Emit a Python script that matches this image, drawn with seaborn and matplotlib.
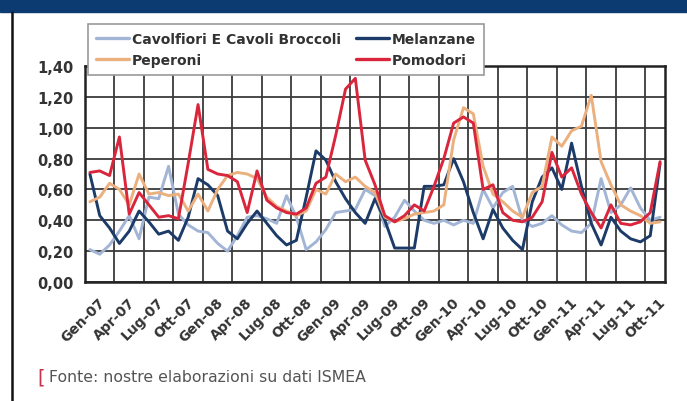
import numpy as np
import pandas as pd
import matplotlib
matplotlib.use("Agg")
import matplotlib.pyplot as plt
import seaborn as sns
from matplotlib.ticker import FuncFormatter
from matplotlib.transforms import ScaledTranslation

# monthly index (Gen-07 .. Nov-11), euro/kg
tick_labels = ['Gen-07', 'Apr-07', 'Lug-07', 'Ott-07', 'Gen-08', 'Apr-08', 'Lug-08', 'Ott-08',
               'Gen-09', 'Apr-09', 'Lug-09', 'Ott-09', 'Gen-10', 'Apr-10', 'Lug-10', 'Ott-10',
               'Gen-11', 'Apr-11', 'Lug-11', 'Ott-11']
series_names = ['Cavolfiori E Cavoli Broccoli', 'Peperoni', 'Melanzane', 'Pomodori']

cavolfiori = [0.21, 0.18, 0.24, 0.33, 0.43, 0.28, 0.55, 0.54, 0.75, 0.44, 0.37, 0.33, 0.32, 0.25, 0.20,
              0.30, 0.42, 0.43, 0.41, 0.38, 0.56, 0.42, 0.21, 0.26, 0.34, 0.45, 0.46, 0.47, 0.60, 0.56,
              0.36, 0.42, 0.53, 0.46, 0.40, 0.38, 0.40, 0.37, 0.40, 0.38, 0.60, 0.48, 0.58, 0.62, 0.40,
              0.36, 0.38, 0.43, 0.37, 0.33, 0.32, 0.38, 0.67, 0.45, 0.50, 0.61, 0.48, 0.40, 0.42]
melanzane = [0.70, 0.43, 0.35, 0.25, 0.33, 0.46, 0.39, 0.31, 0.33, 0.27, 0.42, 0.67, 0.63, 0.56, 0.33,
             0.28, 0.38, 0.46, 0.38, 0.30, 0.24, 0.27, 0.55, 0.85, 0.79, 0.65, 0.54, 0.45, 0.38, 0.54,
             0.40, 0.22, 0.22, 0.22, 0.62, 0.62, 0.63, 0.80, 0.65, 0.45, 0.28, 0.47, 0.35, 0.27, 0.21,
             0.52, 0.68, 0.74, 0.60, 0.90, 0.62, 0.38, 0.24, 0.42, 0.33, 0.28, 0.26, 0.30, 0.77]
peperoni = [0.52, 0.55, 0.64, 0.60, 0.50, 0.70, 0.57, 0.58, 0.56, 0.57, 0.46, 0.57, 0.46, 0.60, 0.69,
            0.71, 0.70, 0.67, 0.55, 0.49, 0.46, 0.43, 0.46, 0.60, 0.57, 0.70, 0.65, 0.68, 0.62, 0.58,
            0.42, 0.39, 0.41, 0.44, 0.45, 0.46, 0.50, 0.92, 1.13, 1.09, 0.75, 0.57, 0.52,
            0.46, 0.42, 0.58, 0.62, 0.94, 0.88, 0.98, 1.01, 1.21, 0.78, 0.63, 0.50, 0.46, 0.43, 0.38, 0.39]
pomodori = [0.71, 0.72, 0.69, 0.94, 0.44, 0.58, 0.50, 0.42, 0.43, 0.41, 0.77, 1.15, 0.73, 0.70, 0.69,
            0.65, 0.45, 0.72, 0.53, 0.48, 0.45, 0.44, 0.48, 0.64, 0.68, 0.95, 1.25, 1.32, 0.79, 0.63,
            0.43, 0.39, 0.43, 0.50, 0.46, 0.62, 0.80, 1.03, 1.07, 1.03, 0.60, 0.63, 0.45,
            0.40, 0.39, 0.42, 0.52, 0.84, 0.68, 0.74, 0.57, 0.45, 0.35, 0.50, 0.38, 0.37, 0.39, 0.45, 0.78]

colors = {'Cavolfiori E Cavoli Broccoli': '#a3b5d5', 'Melanzane': '#1d3b68',
          'Peperoni': '#ebb07e', 'Pomodori': '#d9263c'}

data = pd.DataFrame({'mese': np.arange(len(pomodori)),
                     'Cavolfiori E Cavoli Broccoli': cavolfiori,
                     'Melanzane': melanzane,
                     'Peperoni': peperoni,
                     'Pomodori': pomodori})
long = data.melt(id_vars='mese', var_name='serie', value_name='valore')

sns.set_style('white')
plt.rcParams['font.family'] = ['DejaVu Sans']

fig = plt.figure(figsize=(6.87, 4.02), dpi=100)
ax = fig.add_axes([85 / 687, 1 - 283 / 402, 580 / 687, 216 / 402])

# draw order: cavolfiori, melanzane, peperoni, pomodori
sns.lineplot(data=long, x='mese', y='valore', hue='serie',
             hue_order=['Cavolfiori E Cavoli Broccoli', 'Melanzane', 'Peperoni', 'Pomodori'],
             palette=colors, linewidth=2.1, ax=ax, legend=False)

n = len(pomodori)
ax.set_xlim(-0.5, n - 0.5)
ax.set_ylim(0, 1.4)
ax.set_yticks(np.arange(0, 1.41, 0.2))
ax.yaxis.set_major_formatter(FuncFormatter(lambda v, p: f"{v:.2f}".replace('.', ',')))
ax.set_xticks(np.arange(0, n, 3))
ax.set_xticklabels(tick_labels, rotation=45, ha='right', rotation_mode='anchor')
ax.set_xticks(np.arange(-0.5, n, 3), minor=True)
ax.grid(which='minor', axis='x', color='#3a3a3a', linewidth=1.3)
ax.grid(which='major', axis='y', color='#3a3a3a', linewidth=1.3)
ax.grid(which='major', axis='x', visible=False)
ax.tick_params(axis='both', which='both', length=0)
ax.tick_params(axis='y', pad=8, labelsize=10.5, labelcolor='#333333')
ax.tick_params(axis='x', pad=9, labelsize=10, labelcolor='#333333')
shift = ScaledTranslation(6 / 72, 0, fig.dpi_scale_trans)
for lab in ax.get_xticklabels():
    lab.set_fontweight('bold')
    lab.set_transform(lab.get_transform() + shift)
for lab in ax.get_yticklabels():
    lab.set_fontweight('bold')
for s in ax.spines.values():
    s.set_color('#222222')
    s.set_linewidth(1.8)
ax.set_xlabel('')
ax.set_ylabel('')

handles = [plt.Line2D([], [], color=colors[k], linewidth=2.4) for k in series_names]
leg = ax.legend(handles, series_names, ncol=2, loc='upper left',
                bbox_to_anchor=(88 / 687, 1 - 25 / 402), bbox_transform=fig.transFigure,
                frameon=True, fancybox=False, edgecolor='#9a9a9a', framealpha=1,
                prop={'weight': 'bold', 'size': 10}, handlelength=2.4, handletextpad=0.2,
                columnspacing=1.1, labelspacing=0.55, borderpad=0.55, borderaxespad=0)
for t in leg.get_texts():
    t.set_color('#333333')
leg.get_frame().set_linewidth(1.2)
leg.set_zorder(10)

# page decorations
fig.patches.append(plt.Rectangle((0, 1 - 13 / 402), 1, 13 / 402, transform=fig.transFigure,
                                 color='#0b3b70', zorder=0))
fig.lines.append(plt.Line2D([12 / 687, 12 / 687], [0, 1 - 13 / 402], transform=fig.transFigure,
                            color='#111111', linewidth=1.8))
fig.text(37 / 687, 1 - 378 / 402, '[', color='#c8324a', fontsize=14, va='center', ha='left')
fig.text(49 / 687, 1 - 378 / 402, 'Fonte: nostre elaborazioni su dati ISMEA', color='#555555',
         fontsize=11.3, va='center', ha='left')

fig.savefig('out.png', dpi=100)
